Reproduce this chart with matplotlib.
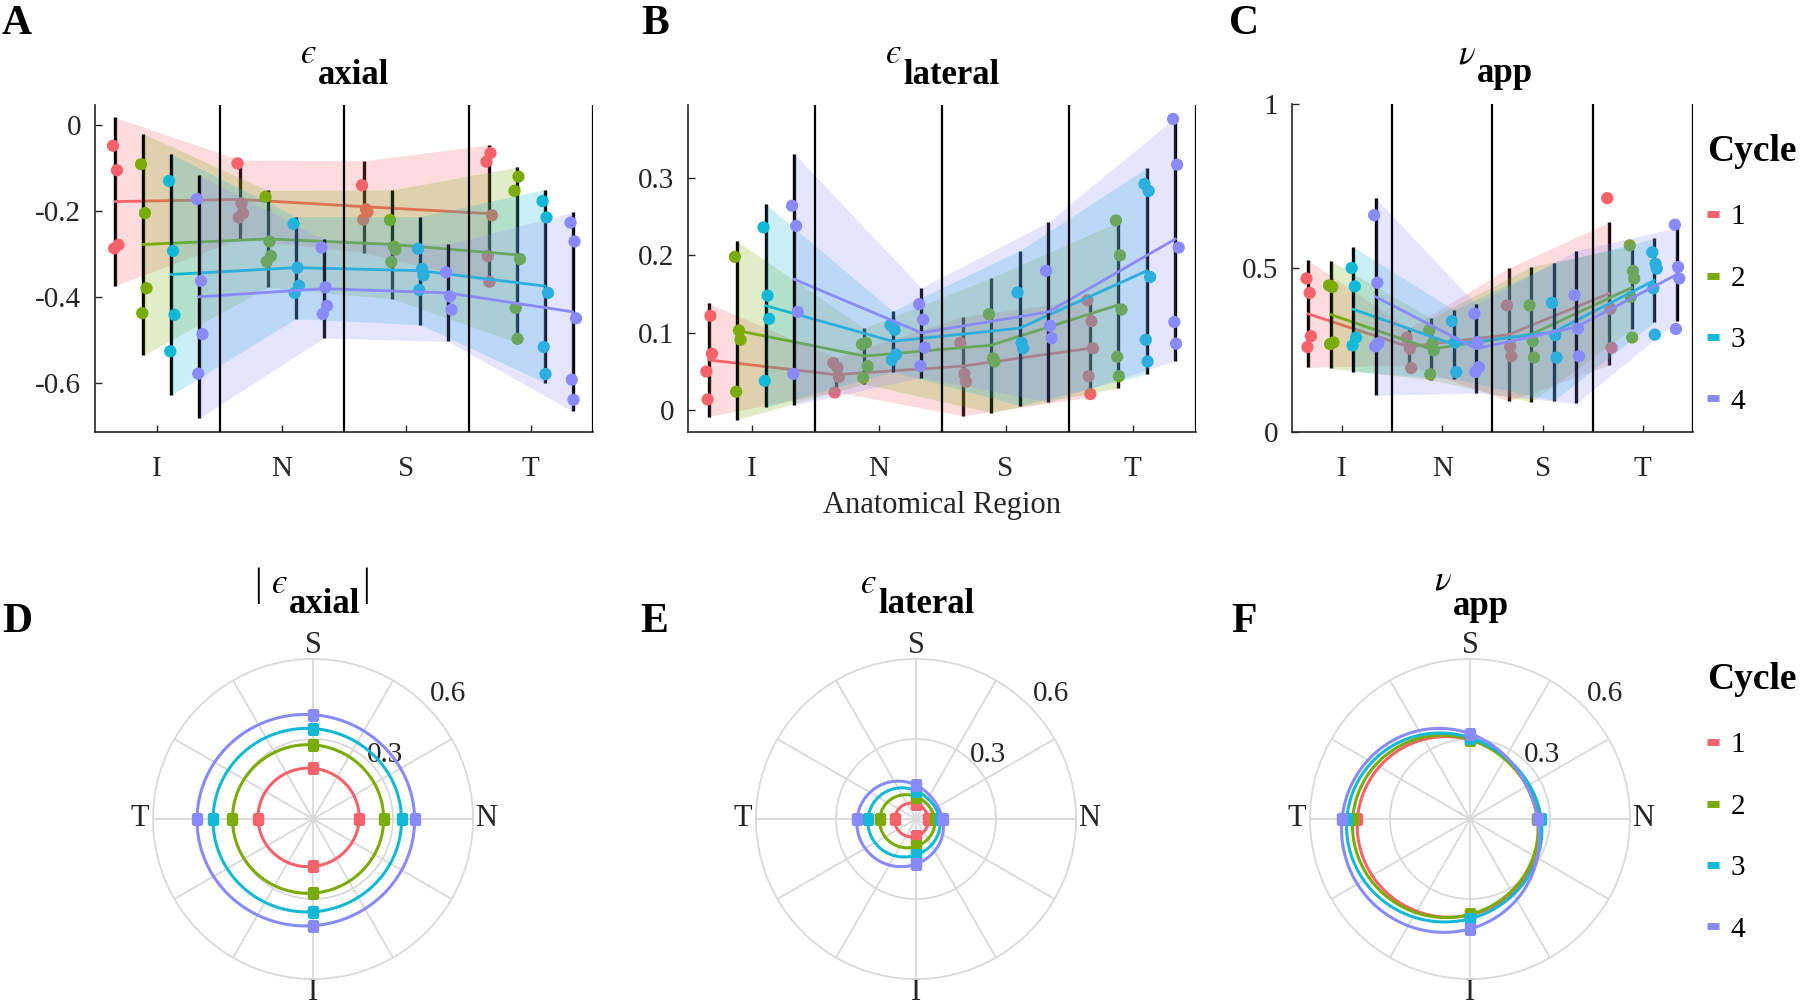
import numpy as np
import matplotlib
matplotlib.use('Agg')
import matplotlib.pyplot as plt
from matplotlib.lines import Line2D
from matplotlib.ticker import FuncFormatter

plt.rcParams['font.family'] = ['Liberation Serif', 'DejaVu Serif']
plt.rcParams['mathtext.fontset'] = 'stix'
plt.rcParams['axes.unicode_minus'] = False

regions = ['I', 'N', 'S', 'T']
cycles = ['1', '2', '3', '4']
colors = ['#F8636B', '#7AAB06', '#12B9D6', '#8A8AFF']

# ---------------- Panel A: axial strain (cycle x region) ----------------
axial_mean = [[-0.178, -0.173, -0.190, -0.206],
              [-0.278, -0.265, -0.278, -0.302],
              [-0.348, -0.332, -0.339, -0.375],
              [-0.400, -0.381, -0.391, -0.435]]
axial_err = [[0.196, 0.092, 0.107, 0.160],
             [0.258, 0.113, 0.127, 0.204],
             [0.281, 0.119, 0.126, 0.225],
             [0.283, 0.115, 0.113, 0.232]]
axial_pts = [
    [[-0.048, -0.105, -0.279, -0.287], [-0.089, -0.182, -0.205, -0.215],
     [-0.140, -0.196, -0.202, -0.220], [-0.085, -0.065, -0.210, -0.305, -0.365]],
    [[-0.091, -0.205, -0.380, -0.438], [-0.167, -0.271, -0.305, -0.318],
     [-0.221, -0.283, -0.290, -0.319], [-0.153, -0.120, -0.312, -0.426, -0.498]],
    [[-0.130, -0.293, -0.442, -0.527], [-0.230, -0.332, -0.374, -0.391],
     [-0.288, -0.335, -0.350, -0.384], [-0.177, -0.215, -0.391, -0.517, -0.580]],
    [[-0.172, -0.363, -0.487, -0.579], [-0.285, -0.378, -0.421, -0.440],
     [-0.343, -0.399, -0.430], [-0.227, -0.271, -0.450, -0.593, -0.640]],
]

# ---------------- Panel B: lateral strain ----------------
lateral_mean = [[0.065, 0.046, 0.057, 0.080],
                [0.103, 0.070, 0.084, 0.136],
                [0.135, 0.089, 0.106, 0.180],
                [0.169, 0.100, 0.127, 0.221]]
lateral_err = [[0.073, 0.022, 0.064, 0.063],
               [0.115, 0.036, 0.087, 0.107],
               [0.131, 0.039, 0.100, 0.133],
               [0.162, 0.058, 0.116, 0.157]]
lateral_pts = [
    [[0.050, 0.122, 0.073, 0.014], [0.061, 0.055, 0.043, 0.023],
     [0.087, 0.047, 0.037], [0.142, 0.115, 0.080, 0.044, 0.021]],
    [[0.198, 0.103, 0.091, 0.024], [0.085, 0.087, 0.057, 0.042],
     [0.124, 0.067, 0.063], [0.245, 0.200, 0.130, 0.069, 0.044]],
    [[0.236, 0.148, 0.118, 0.038], [0.110, 0.104, 0.072, 0.065],
     [0.152, 0.087, 0.080], [0.292, 0.283, 0.172, 0.091, 0.063]],
    [[0.264, 0.238, 0.127, 0.047], [0.137, 0.117, 0.081, 0.057],
     [0.180, 0.109, 0.093], [0.376, 0.317, 0.210, 0.114, 0.086]],
]

# ---------------- Panel C: apparent Poisson's ratio ----------------
nu_mean = [[0.360, 0.260, 0.297, 0.422],
           [0.358, 0.253, 0.298, 0.440],
           [0.374, 0.267, 0.305, 0.462],
           [0.412, 0.254, 0.320, 0.480]]
nu_err = [[0.163, 0.056, 0.203, 0.218],
          [0.164, 0.094, 0.206, 0.127],
          [0.190, 0.105, 0.209, 0.128],
          [0.300, 0.135, 0.233, 0.143]]
nu_pts = [
    [[0.468, 0.424, 0.292, 0.259], [0.287, 0.254, 0.195],
     [0.386, 0.261, 0.231], [0.713, 0.376, 0.257]],
    [[0.447, 0.442, 0.273, 0.268], [0.310, 0.271, 0.249, 0.176],
     [0.386, 0.277, 0.227], [0.569, 0.491, 0.468, 0.412, 0.288]],
    [[0.500, 0.444, 0.288, 0.264], [0.338, 0.273, 0.183],
     [0.394, 0.295, 0.227], [0.548, 0.513, 0.498, 0.438, 0.297]],
    [[0.661, 0.455, 0.271, 0.261], [0.361, 0.274, 0.198, 0.183],
     [0.417, 0.315, 0.231], [0.632, 0.503, 0.468, 0.314]],
]

# polar angle (degrees) for each region: I bottom, N right, S top, T left
region_angle = [270, 0, 90, 180]

W, H = 1800, 1008
fig = plt.figure(figsize=(18, 10.08), dpi=100)


def px_box(left, top, right, bottom):
    return [left / W, 1 - bottom / H, (right - left) / W, (bottom - top) / H]


offsets = [-0.3375, -0.1125, 0.1125, 0.3375]
jit = [-0.018, 0.014, 0.026, -0.008, 0.006]
fmt = FuncFormatter(lambda v, p: '{:g}'.format(round(v, 3)))


def top_panel(box, means, errs, pts, ylim, yticks, xlabel=None):
    ax = fig.add_axes(px_box(*box))
    xr = np.arange(1, 5)
    for k in range(4):
        z = 2 + 4 * k
        x = xr + offsets[k]
        m = np.array(means[k])
        e = np.array(errs[k])
        ax.vlines(x, m - e, m + e, color='black', lw=2.4, zorder=z)
        for j in range(4):
            vals = pts[k][j]
            xs = x[j] + np.array(jit[:len(vals)])
            ax.scatter(xs, vals, s=78, color=colors[k], edgecolors='none', zorder=z + 1)
        ax.plot(x, m, color=colors[k], lw=2.0, zorder=z + 2)
        ax.fill_between(x, m - e, m + e, color=colors[k], alpha=0.22, lw=0, zorder=z + 3)
    for xv in [1.5, 2.5, 3.5, 4.5]:
        ax.axvline(xv, color='black', lw=1.6, zorder=40)
    ax.set_xlim(0.5, 4.5)
    ax.set_ylim(*ylim)
    ax.set_xticks(xr)
    ax.set_xticklabels(regions)
    ax.set_yticks(yticks)
    ax.yaxis.set_major_formatter(fmt)
    for s in ['top', 'right']:
        ax.spines[s].set_visible(False)
    for s in ['left', 'bottom']:
        ax.spines[s].set_color('#262626')
        ax.spines[s].set_linewidth(1.2)
    ax.tick_params(axis='both', direction='in', length=5, width=1, colors='#262626',
                   labelsize=21, labelcolor='#262626')
    ax.tick_params(axis='x', pad=17)
    ax.tick_params(axis='y', pad=10)
    if xlabel:
        ax.set_xlabel(xlabel, fontsize=22, color='#262626', labelpad=7)
    ax.set_facecolor('none')
    return ax


axA = top_panel((95, 105, 593, 432), axial_mean, axial_err, axial_pts,
                (-0.715, 0.047), [-0.6, -0.4, -0.2, 0])
axB = top_panel((688, 105, 1196, 432), lateral_mean, lateral_err, lateral_pts,
                (-0.028, 0.394), [0, 0.1, 0.2, 0.3], xlabel='Anatomical Region')
axC = top_panel((1292, 104, 1693, 432), nu_mean, nu_err, nu_pts,
                (0, 1), [0, 0.5, 1])


def polar_panel(center, radius, means):
    cx, cy = center
    ax = fig.add_axes(px_box(cx - radius, cy - radius, cx + radius, cy + radius),
                      projection='polar')
    ax.set_theta_zero_location('E')
    ax.set_theta_direction(1)
    ax.set_ylim(0, 0.6)
    ax.set_yticks([0.3])
    ax.set_yticklabels([])
    labels = []
    for a in range(0, 360, 30):
        labels.append({0: 'N', 90: 'S', 180: 'T', 270: 'I'}.get(a, ''))
    ax.set_thetagrids(np.arange(0, 360, 30), labels=labels)
    ax.tick_params(axis='x', labelsize=22, pad=-1, colors='#262626')
    ax.grid(True, color='#d9d9d9', lw=1.3)
    ax.spines['polar'].set_color('#d9d9d9')
    ax.spines['polar'].set_linewidth(1.3)
    th = np.deg2rad(np.array(region_angle, dtype=float))
    tt = np.linspace(0, 2 * np.pi, 400)
    for k in range(4):
        r = np.abs(np.array(means[k]))
        rI, rN, rS, rT = r
        a0 = r.mean()
        a1 = (rN - rT) / 2
        b1 = (rS - rI) / 2
        a2 = (rN + rT - rS - rI) / 4
        curve = a0 + a1 * np.cos(tt) + b1 * np.sin(tt) + a2 * np.cos(2 * tt)
        ax.plot(tt, curve, color=colors[k], lw=2.2, zorder=5 + k)
        ax.plot(th, r, 's', color=colors[k], ms=7.5, zorder=5 + k)
    ax.text(np.deg2rad(41.5), 0.363, '0.3', ha='center', va='center', fontsize=21,
            color='#262626', zorder=3)
    ax.text(np.deg2rad(43), 0.69, '0.6', ha='center', va='center', fontsize=21,
            color='#262626', zorder=3)
    ax.set_facecolor('none')
    return ax


axD = polar_panel((313, 819), 160, axial_mean)
axE = polar_panel((916, 819), 160, lateral_mean)
axF = polar_panel((1470, 819), 160, nu_mean)


def ftext(x, y, s, **kw):
    fig.text(x / W, 1 - y / H, s, **kw)


GREEK = {'eps': '\u03f5', 'nu': '\u03bd'}


def two_part_title(xsplit, ysym, ysub, sym, sub):
    ftext(xsplit, ysym, GREEK[sym], ha='right', va='baseline', fontsize=25,
          family=['STIXGeneral', 'DejaVu Serif'], style='italic')
    ftext(xsplit + 2, ysub, sub, ha='left', va='baseline', fontsize=25, fontweight='bold')


# Titles (top row)
two_part_title(316, 63, 84, 'eps', 'axial')
two_part_title(901, 63, 84, 'eps', 'lateral')
two_part_title(1475, 63, 82, 'nu', 'app')

# Titles (bottom row)
ftext(258, 585, '|', ha='center', va='center', fontsize=28)
two_part_title(287, 593, 613, 'eps', 'axial')
ftext(366, 585, '|', ha='center', va='center', fontsize=28)
two_part_title(876, 593, 613, 'eps', 'lateral')
two_part_title(1451, 590, 615, 'nu', 'app')

# Panel letters
for lab, x, y in [('A', 2, 34), ('B', 641, 34), ('C', 1229, 34),
                  ('D', 2, 632), ('E', 640, 632), ('F', 1231, 632)]:
    ftext(x, y, lab, ha='left', va='baseline', fontsize=30, fontweight='bold')

# Legends
handles = [Line2D([0], [0], color=c, lw=5, solid_capstyle='butt') for c in colors]
for ytop in (134, 662):
    fig.legend(handles, cycles, title='Cycle', loc='upper left',
               bbox_to_anchor=(1707 / W, 1 - ytop / H), bbox_transform=fig.transFigure,
               frameon=False, fontsize=21,
               title_fontproperties={'weight': 'bold', 'size': 27},
               handlelength=0.4, handletextpad=0.4, labelspacing=1.2,
               borderpad=0, borderaxespad=0, alignment='left')

fig.savefig('out.png', dpi=100)
